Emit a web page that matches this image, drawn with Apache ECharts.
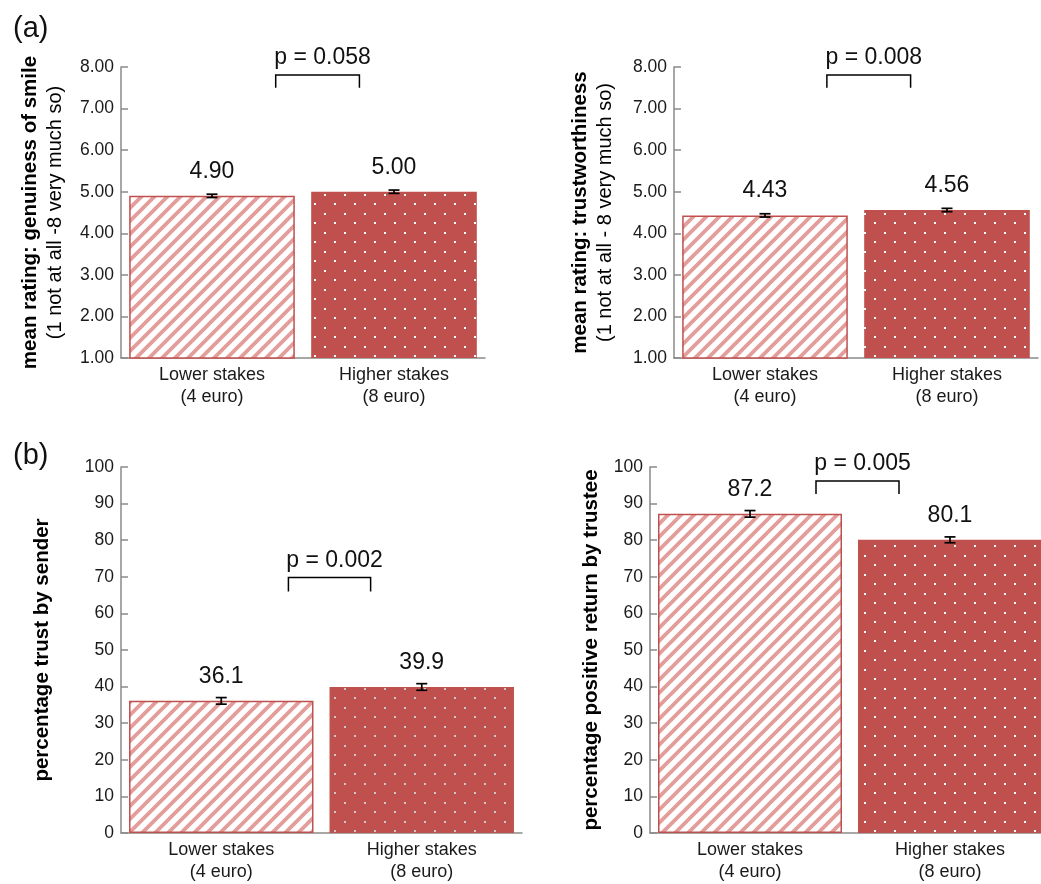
<!DOCTYPE html>
<html>
<head>
<meta charset="utf-8">
<script src="https://cdn.jsdelivr.net/npm/echarts@6/dist/echarts.min.js"></script>
<style>
  html, body { margin: 0; padding: 0; background: #fff; }
  #main { width: 1041px; height: 884px; }
</style>
</head>
<body>
<div id="main"></div>
<script>
// data
var categories = ['Lower stakes\n(4 euro)', 'Higher stakes\n(8 euro)'];

var smileMeans = [4.90, 5.00];
var smileErr = [0.04, 0.04];
var trustMeans = [4.43, 4.56];
var trustErr = [0.04, 0.04];
var senderPct = [36.1, 39.9];
var senderErr = [0.9, 0.9];
var returnPct = [87.2, 80.1];
var returnErr = [0.9, 0.8];

var pLabels = ['p = 0.058', 'p = 0.008', 'p = 0.002', 'p = 0.005'];
// bracket [top, leg end] in axis units
var brackets = [[7.81, 7.50], [7.81, 7.50], [69.8, 66.0], [96.2, 92.6]];

var ratingAxis = { min: 1, max: 8, interval: 1 };
var pctAxis = { min: 0, max: 100, interval: 10 };

var FONT = 'Liberation Sans';
var RED = '#c0504d';

// where the bracket sits between the two bar centres (fraction of the gap)
var bracketSpan = [[0.35, 0.81], [0.34, 0.80], [0.335, 0.745], [0.33, 0.745]];

// 45 degree stripes for the lower stakes bars
function stripePattern() {
    var s = 13;
    var c = document.createElement('canvas');
    c.width = s; c.height = s;
    var g = c.getContext('2d');
    g.fillStyle = '#fff';
    g.fillRect(0, 0, s, s);
    g.strokeStyle = '#e39e9c';
    g.lineWidth = 3.8;
    g.beginPath();
    g.moveTo(0, s); g.lineTo(s, 0);
    g.moveTo(-s / 2, s / 2); g.lineTo(s / 2, -s / 2);
    g.moveTo(s / 2, s * 1.5); g.lineTo(s * 1.5, s / 2);
    g.stroke();
    return c;
}

// staggered dots for the higher stakes bars
function dotPattern(dot) {
    var c = document.createElement('canvas');
    c.width = 20; c.height = 19;
    var g = c.getContext('2d');
    g.fillStyle = RED;
    g.fillRect(0, 0, 20, 19);
    g.fillStyle = dot;
    g.fillRect(4, 4, 2, 2);
    g.fillRect(14, 13, 2, 2);
    return c;
}

var stripes = stripePattern();

function barSeries(values, idx, decimals, dot) {
    return {
        type: 'bar',
        xAxisIndex: idx, yAxisIndex: idx,
        barCategoryGap: idx < 2 ? '9%' : '8%',
        data: [
            { value: values[0], itemStyle: { color: { image: stripes, repeat: 'repeat' }, borderColor: RED, borderWidth: 1.5 } },
            { value: values[1], itemStyle: { color: { image: dotPattern(dot), repeat: 'repeat' }, borderWidth: 0 } }
        ],
        label: {
            show: true, position: 'top', distance: 13,
            fontFamily: FONT, fontSize: 23, color: '#111',
            formatter: function (p) { return p.value.toFixed(decimals); }
        },
        emphasis: { disabled: true },
        z: 2
    };
}

function errorSeries(values, errs, idx) {
    return {
        type: 'custom',
        xAxisIndex: idx, yAxisIndex: idx,
        data: values.map(function (v, i) { return [i, v, errs[i]]; }),
        renderItem: function (params, api) {
            var x = api.value(0), v = api.value(1), e = api.value(2);
            var hi = api.coord([x, v + e]);
            var lo = api.coord([x, v - e]);
            var st = { stroke: '#000', lineWidth: 1.7 };
            return {
                type: 'group',
                children: [
                    { type: 'line', shape: { x1: hi[0], y1: hi[1], x2: lo[0], y2: lo[1] }, style: st },
                    { type: 'line', shape: { x1: hi[0] - 5.5, y1: hi[1], x2: hi[0] + 5.5, y2: hi[1] }, style: st },
                    { type: 'line', shape: { x1: lo[0] - 5.5, y1: lo[1], x2: lo[0] + 5.5, y2: lo[1] }, style: st }
                ]
            };
        },
        z: 5
    };
}

function bracketSeries(idx) {
    return {
        type: 'custom',
        xAxisIndex: idx, yAxisIndex: idx,
        data: [brackets[idx]],
        renderItem: function (params, api) {
            var a = api.coord([0, api.value(0)]);
            var b = api.coord([1, api.value(0)]);
            var leg = api.coord([0, api.value(1)])[1];
            var x1 = a[0] + bracketSpan[idx][0] * (b[0] - a[0]);
            var x2 = a[0] + bracketSpan[idx][1] * (b[0] - a[0]);
            return {
                type: 'group',
                children: [
                    { type: 'polyline', shape: { points: [[x1, leg], [x1, a[1]], [x2, a[1]], [x2, leg]] },
                      style: { stroke: '#000', lineWidth: 1.5, fill: null } },
                    { type: 'text', x: (x1 + x2) / 2 + 5, y: a[1] - 17,
                      style: { text: pLabels[idx], font: '23px ' + FONT, fill: '#111', align: 'center', verticalAlign: 'middle' } }
                ]
            };
        },
        z: 5
    };
}

var grids = [
    { left: 121, top: 67, width: 364, height: 291, outerBoundsMode: 'none' },
    { left: 674, top: 67, width: 364, height: 291, outerBoundsMode: 'none' },
    { left: 121, top: 467, width: 401, height: 366, outerBoundsMode: 'none' },
    { left: 650, top: 467, width: 400, height: 366, outerBoundsMode: 'none' }
];

var yNames = [
    '{b|mean rating: genuiness of smile}\n{n|(1 not at all -8 very much so)}',
    '{b|mean rating: trustworthiness}\n{n|(1 not at all - 8 very much so)}',
    '{b|percentage trust by sender}',
    '{b|percentage positive return by trustee}'
];
var nameGaps = [53, 56, 66, 46];

var xAxes = grids.map(function (g, i) {
    return {
        type: 'category', gridIndex: i, data: categories,
        axisLine: { lineStyle: { color: '#8a8a8a', width: 1.5 } },
        axisTick: { show: false },
        axisLabel: { fontFamily: FONT, fontSize: 18, color: '#1a1a1a', margin: 6, lineHeight: 22 }
    };
});

var yAxes = grids.map(function (g, i) {
    var sc = i < 2 ? ratingAxis : pctAxis;
    return {
        type: 'value', gridIndex: i,
        min: sc.min, max: sc.max, interval: sc.interval,
        name: yNames[i], nameLocation: 'middle', nameRotate: 90, nameGap: nameGaps[i],
        nameTextStyle: {
            fontFamily: FONT,
            rich: {
                b: { fontFamily: FONT, fontWeight: 'bold', fontSize: 20.5, lineHeight: 25, color: '#000' },
                n: { fontFamily: FONT, fontSize: 20, lineHeight: 25, color: '#000' }
            }
        },
        axisLine: { show: true, lineStyle: { color: '#8a8a8a', width: 1.5 } },
        axisTick: { show: true, inside: true, length: 7, lineStyle: { color: '#8a8a8a', width: 1.5 } },
        splitLine: { show: false },
        axisLabel: {
            fontFamily: FONT, fontSize: 17.5, color: '#1a1a1a', margin: 7,
            formatter: function (v) { return i < 2 ? v.toFixed(2) : String(v); }
        }
    };
});

var chart = echarts.init(document.getElementById('main'));
chart.setOption({
    animation: false,
    backgroundColor: '#fff',
    title: [
        { text: '(a)', left: 8, top: 9, textStyle: { fontFamily: FONT, fontSize: 29, fontWeight: 'normal', color: '#111' } },
        { text: '(b)', left: 8, top: 436, textStyle: { fontFamily: FONT, fontSize: 29, fontWeight: 'normal', color: '#111' } }
    ],
    grid: grids,
    xAxis: xAxes,
    yAxis: yAxes,
    series: [
        barSeries(smileMeans, 0, 2, '#fff'),
        barSeries(trustMeans, 1, 2, '#fff'),
        barSeries(senderPct, 2, 1, '#c9c9c9'),
        barSeries(returnPct, 3, 1, '#fff'),
        errorSeries(smileMeans, smileErr, 0),
        errorSeries(trustMeans, trustErr, 1),
        errorSeries(senderPct, senderErr, 2),
        errorSeries(returnPct, returnErr, 3),
        bracketSeries(0),
        bracketSeries(1),
        bracketSeries(2),
        bracketSeries(3)
    ]
});
</script>
</body>
</html>
